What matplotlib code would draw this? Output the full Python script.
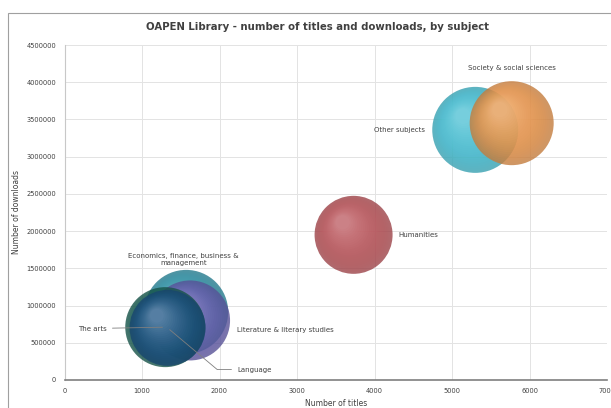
import numpy as np
import matplotlib
matplotlib.use("Agg")
import matplotlib.pyplot as plt
import matplotlib.colors as mc
from matplotlib.transforms import ScaledTranslation
from matplotlib.patches import Rectangle

# data
subjects = ["Economics, finance, business &\nmanagement", "Literature & literary studies",
            "Language", "The arts", "Humanities", "Other subjects",
            "Society & social sciences"]
titles = [1570, 1620, 1330, 1300, 3730, 5300, 5770]
downloads = [915000, 800000, 700000, 710000, 1950000, 3360000, 3450000]
bubble = [42, 40, 38, 40, 39, 43, 42]   # relative bubble radius
colours = ["#2f9cb3", "#7068c0", "#1f5a8e", "#1d6a5c", "#c8565d", "#47cde3", "#fb9f4e"]

# label placement (offset in points, alignment)
lab_off = [(-2, 38), (34, -7), (50, -30), (-42, -1), (32, 0), (-36, 0), (0, 40)]
lab_ha = ["center", "left", "left", "right", "left", "right", "center"]

fig = plt.figure(figsize=(6.11, 4.08), dpi=100)
fig.patches.append(Rectangle((8 / 611, -0.1), 1.2, 1.1 - 13 / 408, transform=fig.transFigure,
                             fill=False, edgecolor="#a0a0a0", linewidth=0.8))
ax = fig.add_axes([64.5 / 611, 28 / 408, (607 - 64.5) / 611, (380 - 45) / 408])


def shade(c, f):
    c = np.array(mc.to_rgb(c))
    if f >= 0:
        return tuple(c + (1 - c) * f)
    return tuple(c * (1 + f))


order = [5, 6, 4, 0, 1, 3, 2]
for z, i in enumerate(order):
    r = bubble[i] * 0.72
    ax.scatter([titles[i]], [downloads[i]], s=(2 * r) ** 2, color=shade(colours[i], -0.22),
               alpha=0.8, edgecolors="none", zorder=3 + z)
    n = 22
    for k in range(1, n + 1):
        t = k / n
        tr = ax.transData + ScaledTranslation(-r * 0.28 * t / 72, r * 0.32 * t / 72,
                                              fig.dpi_scale_trans)
        ax.scatter([titles[i]], [downloads[i]], s=(2 * r * (1 - 0.82 * t)) ** 2,
                   color=shade(colours[i], -0.05 + 0.55 * t), alpha=0.08,
                   edgecolors="none", transform=tr, zorder=3 + z)

for i, name in enumerate(subjects):
    dx, dy = lab_off[i]
    kw = {}
    if name == "Language":
        kw["arrowprops"] = dict(arrowstyle="-", color="#7f7f7f", lw=0.6,
                                connectionstyle="angle,angleA=0,angleB=-40,rad=0")
    elif name == "The arts":
        kw["arrowprops"] = dict(arrowstyle="-", color="#7f7f7f", lw=0.6)
    ax.annotate(name, (titles[i], downloads[i]), xytext=(dx, dy), textcoords="offset points",
                ha=lab_ha[i], va="center", fontsize=5, color="#404040", zorder=20,
                multialignment="center", **kw)

ax.set_xlim(0, 7000)
ax.set_ylim(0, 4500000)
ax.set_xticks(range(0, 7001, 1000))
ax.set_yticks(range(0, 4500001, 500000))
ax.yaxis.set_major_formatter(matplotlib.ticker.FuncFormatter(lambda v, p: f"{int(v)}"))
ax.tick_params(labelsize=4.8, colors="#404040", length=0, pad=6)
ax.grid(True, color="#e3e3e3", linewidth=0.7)
ax.set_axisbelow(True)
for s in ("top", "right"):
    ax.spines[s].set_visible(False)
ax.spines["left"].set_color("#c8c8c8")
ax.spines["bottom"].set_color("#7f7f7f")
ax.spines["bottom"].set_linewidth(1.2)
ax.set_xlabel("Number of titles", fontsize=5.5, color="#404040", labelpad=3)
ax.set_ylabel("Number of downloads", fontsize=5.5, color="#404040", labelpad=4)
fig.text(0.52, 0.934, "OAPEN Library - number of titles and downloads, by subject",
         ha="center", va="center", fontsize=7.3, fontweight="bold", color="#404040")

fig.savefig("out.png", dpi=100)
